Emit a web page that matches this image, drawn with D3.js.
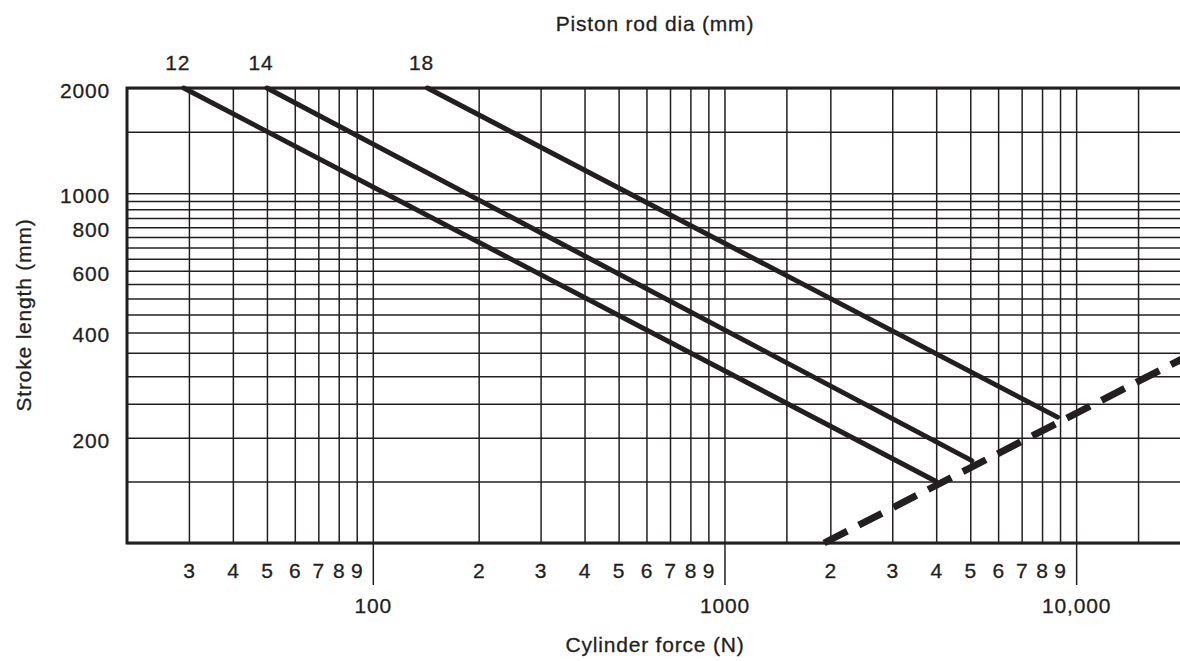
<!DOCTYPE html>
<html lang="en">

<head>
    <meta charset="UTF-8">
    <meta name="viewport" content="width=device-width, initial-scale=1.0">
    <title>Stroke length vs cylinder force</title>
    <script src="https://d3js.org/d3.v7.min.js"></script>
    <style>
        body { margin: 0; background: #fff; }
        text { font-family: "Liberation Sans", Arial, sans-serif; fill: #231f20; letter-spacing: 0.8px;
               stroke: #231f20; stroke-width: 0.3px; }
    </style>
</head>

<body>
    <script>
        // rod lines: force (N) / stroke (mm) at both ends
        var rodDia = ["12", "14", "18"];
        var startForce = [29, 50, 143];
        var startStroke = [2000, 2000, 2000];
        var endForce = [4000, 5050, 8850];
        var endStroke = [150, 172, 229];

        // dashed limit line
        var limitForce = [1920, 20000];
        var limitStroke = [100, 336];

        // grid and tick labels
        var forceGrid = [30, 40, 50, 60, 70, 80, 90, 100, 200, 300, 400, 500, 600, 700, 800, 900,
            1000, 1500, 2000, 3000, 4000, 5000, 6000, 7000, 8000, 9000, 10000, 15000, 20000];
        var forceMinorLabels = ["3", "4", "5", "6", "7", "8", "9", "", "2", "3", "4", "5", "6", "7", "8", "9",
            "", "", "2", "3", "4", "5", "6", "7", "8", "9", "", "", ""];
        var forceDecades = [100, 1000, 10000];
        var forceDecadeLabels = ["100", "1000", "10,000"];
        var strokeGrid = [2000, 1500, 1000, 950, 900, 850, 800, 750, 700, 650, 600, 550,
            500, 450, 400, 350, 300, 250, 200, 150, 100];
        var strokeLabels = [2000, 1000, 800, 600, 400, 200];

        var ink = "#231f20";
        // note: "top" is taken by window.top, so prefix these
        var plotLeft = 127, plotRight = 1182, plotTop = 88, plotBottom = 543;

        var svg = d3.select("body")
            .append("svg")
            .attr("width", "1180")
            .attr("height", "661");

        var x = d3.scaleLog().domain([20, 20000]).range([plotLeft, plotRight]);
        var y = d3.scaleLog().domain([100, 2000]).range([plotBottom, plotTop]);

        // vertical grid + small digit labels
        var gx = svg.append("g")
            .attr("transform", "translate(0," + plotBottom + ")")
            .call(d3.axisBottom(x)
                .tickValues(forceGrid)
                .tickSize(-(plotBottom - plotTop))
                .tickPadding(20)
                .tickFormat(function (d, i) { return forceMinorLabels[i]; }));

        // long ticks at the decades
        var gd = svg.append("g")
            .attr("transform", "translate(0," + plotBottom + ")")
            .call(d3.axisBottom(x)
                .tickValues(forceDecades)
                .tickSize(42)
                .tickPadding(13)
                .tickFormat(function (d, i) { return forceDecadeLabels[i]; }));

        // horizontal grid
        var gy = svg.append("g")
            .attr("transform", "translate(" + plotLeft + ",0)")
            .call(d3.axisLeft(y)
                .tickValues(strokeGrid)
                .tickSize(-(plotRight - plotLeft))
                .tickPadding(17)
                .tickFormat(function (d) { return strokeLabels.indexOf(d) >= 0 ? d : ""; }));

        [gx, gd, gy].forEach(function (g) {
            g.select(".domain").remove();
            g.selectAll("line").attr("stroke", ink).attr("stroke-width", 1.5);
            g.selectAll("text")
                .attr("font-family", null)
                .attr("font-size", 21)
                .attr("fill", ink);
        });
        gy.selectAll("text").attr("dy", "0.45em");

        // frame: left, top, bottom
        svg.append("path")
            .attr("d", "M" + plotRight + "," + y(2000) + "H" + x(20) + "V" + y(100) + "H" + plotRight)
            .attr("fill", "none")
            .attr("stroke", ink)
            .attr("stroke-width", 3);

        // rod lines
        svg.selectAll(".rod")
            .data(rodDia)
            .enter()
            .append("line")
            .attr("class", "rod")
            .attr("x1", function (d, i) { return x(startForce[i]); })
            .attr("y1", function (d, i) { return y(startStroke[i]); })
            .attr("x2", function (d, i) { return x(endForce[i]); })
            .attr("y2", function (d, i) { return y(endStroke[i]); })
            .attr("stroke", ink)
            .attr("stroke-width", 5)
            .attr("stroke-linecap", "round");

        svg.selectAll(".rodLabel")
            .data(rodDia)
            .enter()
            .append("text")
            .attr("class", "rodLabel")
            .attr("x", function (d, i) { return x(startForce[i]) - 6; })
            .attr("y", 70)
            .attr("text-anchor", "middle")
            .attr("font-size", 21)
            .text(function (d) { return d; });

        // dashed limit
        svg.append("line")
            .attr("x1", x(limitForce[0]))
            .attr("y1", y(limitStroke[0]))
            .attr("x2", x(limitForce[1]))
            .attr("y2", y(limitStroke[1]))
            .attr("stroke", ink)
            .attr("stroke-width", 7)
            .attr("stroke-dasharray", "26,13");

        // titles
        svg.append("text")
            .attr("x", 655)
            .attr("y", 31)
            .attr("text-anchor", "middle")
            .attr("font-size", 21)
            .text("Piston rod dia (mm)");

        svg.append("text")
            .attr("x", 655)
            .attr("y", 652)
            .attr("text-anchor", "middle")
            .attr("font-size", 21)
            .text("Cylinder force (N)");

        svg.append("text")
            .attr("transform", "translate(31,315) rotate(-90)")
            .attr("text-anchor", "middle")
            .attr("font-size", 21)
            .text("Stroke length (mm)");
    </script>
</body>

</html>
